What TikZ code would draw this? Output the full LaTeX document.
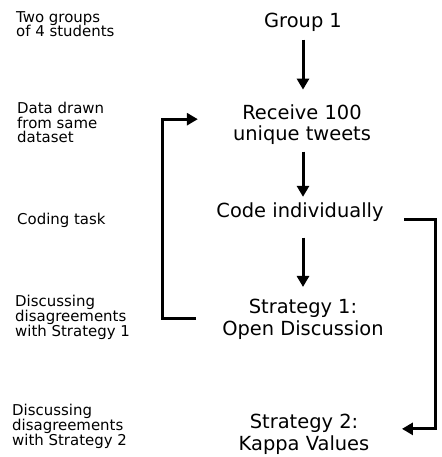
\documentclass[tikz,border=0pt]{standalone}
\usepackage{fontspec}
\setmainfont{DejaVu Sans}
\usetikzlibrary{arrows.meta}
\begin{document}
\begin{tikzpicture}[x=1bp,y=-1bp,
  stage/.style={font=\fontsize{19.5}{22}\selectfont, align=center, inner sep=0pt, anchor=base},
  note/.style={font=\fontsize{15}{15}\selectfont, align=left, inner sep=0pt, anchor=base west},
  link/.style={line width=3bp},
  arr/.style={link, -{Triangle[length=11bp,width=12bp]}}]
\useasboundingbox (0,0) rectangle (442,457);

% process stages (anchored at the baseline of their last line)
\node[stage] (g1)   at (303,28)  {Group 1};
\node[stage] (recv) at (302,141) {Receive 100\\unique tweets};
\node[stage] (code) at (300,218) {Code individually};
\node[stage] (s1)   at (303,335) {Strategy 1:\\Open Discussion};
\node[stage] (s2)   at (304,450) {Strategy 2:\\Kappa Values};

% side notes
\node[note] (n1) at (16,37)  {Two groups\\of 4 students};
\node[note] (n2) at (17,143) {Data drawn\\from same\\dataset};
\node[note] (n3) at (17,225) {Coding task};
\node[note] (n4) at (15,336) {Discussing\\disagreements\\with Strategy 1};
\node[note] (n5) at (12,445) {Discussing\\disagreements\\with Strategy 2};

% main flow
\draw[arr, shorten <=7.4bp, shorten >=14.5bp] (g1.south -| s1.north) -- (recv.north -| s1.north);
\draw[arr, shorten <=6.4bp, shorten >=6.2bp] (recv.south -| s1.north) -- (code.north -| s1.north);
\draw[arr, shorten <=15.4bp, shorten >=11.5bp] (code.south -| s1.north) -- (s1.north);

% loop back from strategy 1 to receiving data
\draw[arr, shorten <=26bp, shorten >=35bp] (s1.west) -- ++(-60,0)
  |- ([yshift=5.5bp]recv.west);

% branch from coding to strategy 2
\draw[arr, shorten <=20.5bp, shorten >=32.5bp] ([yshift=-1bp]code.base east) -- ++(51.5,0)
  |- ([yshift=5bp]s2.east);
\end{tikzpicture}
\end{document}
